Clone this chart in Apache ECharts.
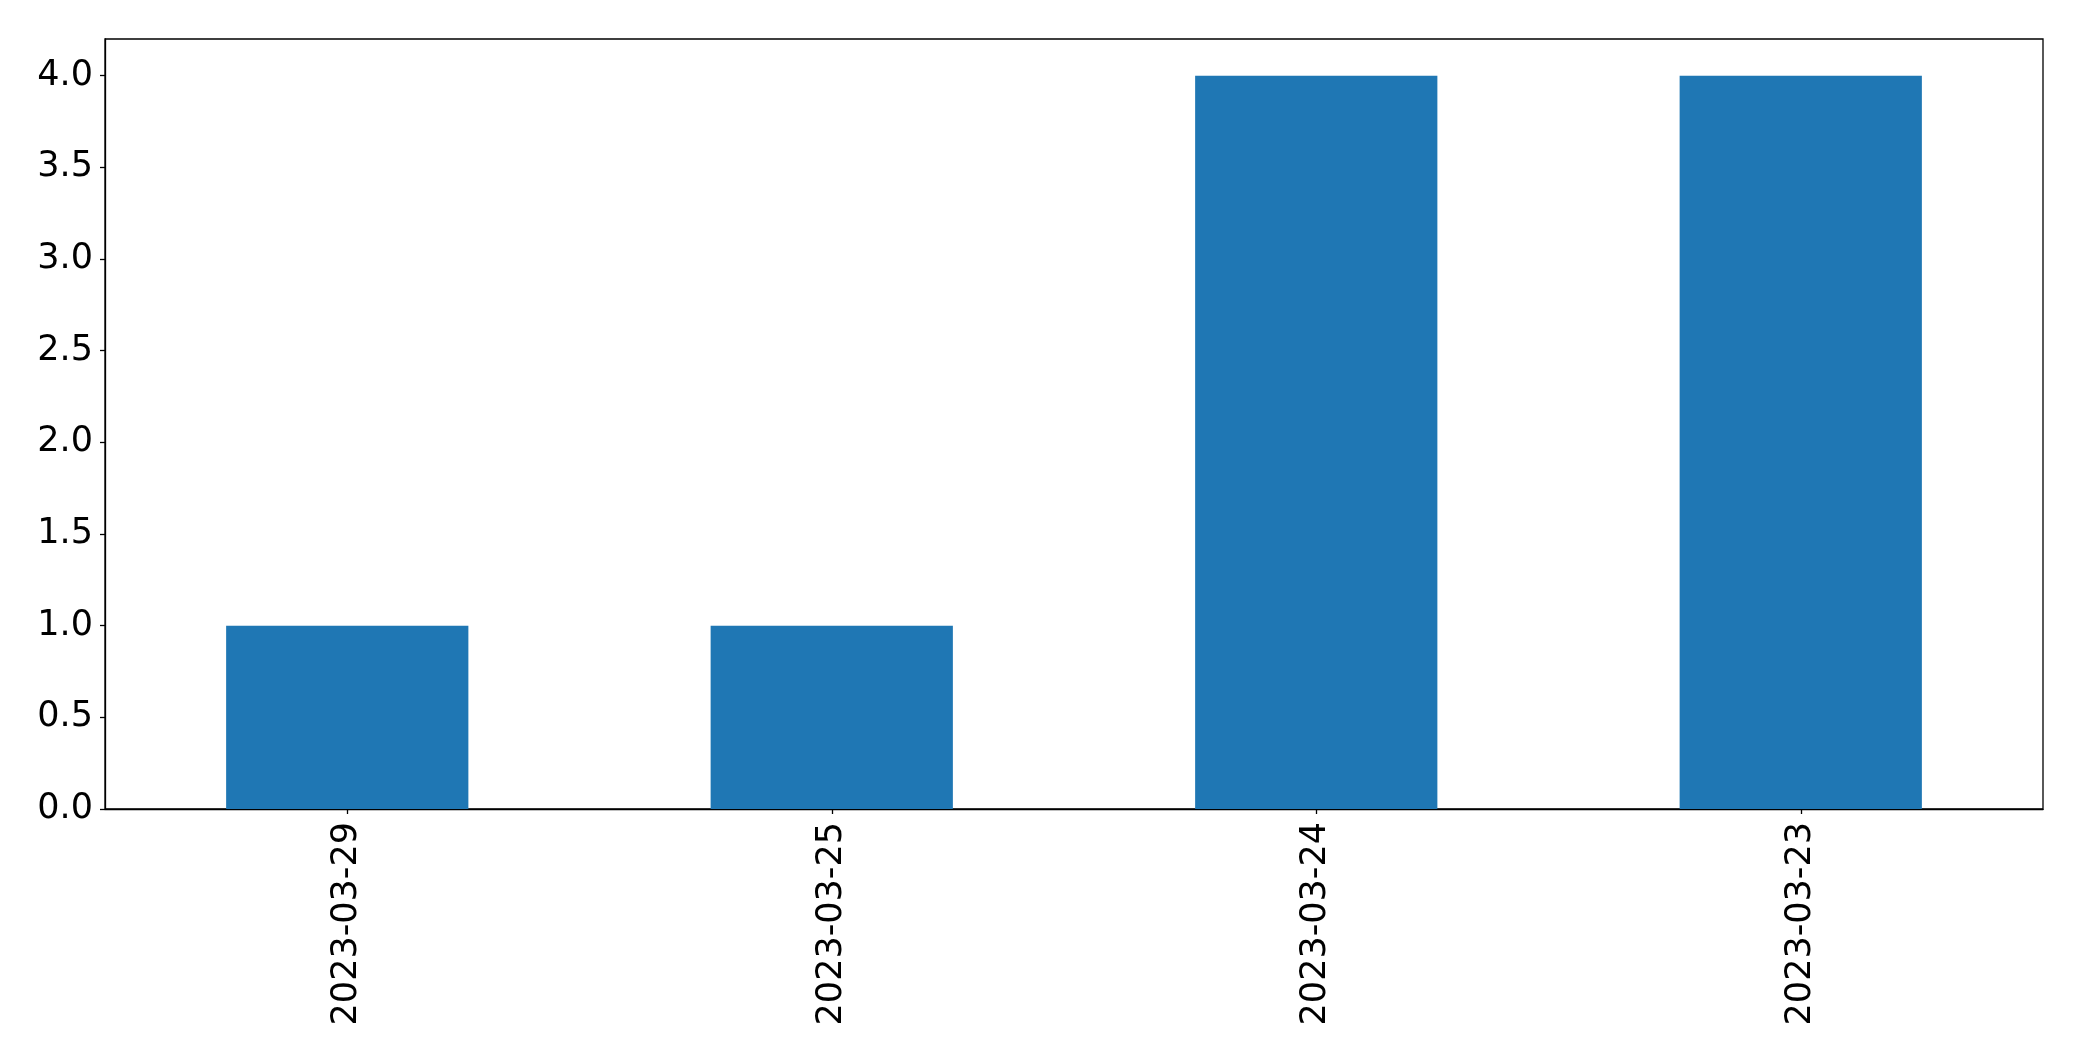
<!DOCTYPE html>
<html>
<head>
<meta charset="utf-8">
<script src="https://cdn.jsdelivr.net/npm/echarts@6/dist/echarts.min.js"></script>
<style>html,body{margin:0;padding:0;background:#fff;}#c{width:2082px;height:1061px;}</style>
</head>
<body>
<div id="c"></div>
<script>
const categories = ['2023-03-29', '2023-03-25', '2023-03-24', '2023-03-23'];
const values = [1, 1, 4, 4];
const yTicks = [0, 0.5, 1, 1.5, 2, 2.5, 3, 3.5, 4];

const chart = echarts.init(document.getElementById('c'), null, {renderer: 'canvas'});
chart.setOption({
  animation: false,
  backgroundColor: '#fff',
  grid: {left: 105, top: 39, right: 39, bottom: 252, show: true, borderColor: '#000', borderWidth: 1.3, backgroundColor: 'transparent'},
  xAxis: {
    type: 'category',
    data: categories,
    axisLine: {show: true, lineStyle: {color: '#000', width: 1.3}},
    axisTick: {show: true, alignWithLabel: true, length: 5, lineStyle: {color: '#000', width: 1.3}},
    axisLabel: {rotate: 90, color: '#000', fontSize: 35, fontFamily: 'DejaVu Sans', margin: 13},
    splitLine: {show: false}
  },
  yAxis: {
    type: 'value',
    min: 0,
    max: 4.2,
    interval: 0.5,
    axisLine: {show: true, lineStyle: {color: '#000', width: 1.3}},
    axisTick: {show: true, length: 5, lineStyle: {color: '#000', width: 1.3}, customValues: yTicks},
    axisLabel: {color: '#000', fontSize: 35, fontFamily: 'DejaVu Sans', margin: 12, customValues: yTicks,
      padding: [5, 0, 0, 0],
      formatter: v => v.toFixed(1)},
    splitLine: {show: false}
  },
  series: [{
    type: 'bar',
    data: values,
    barWidth: '50%',
    itemStyle: {color: '#1f77b4'}
  }]
});
</script>
</body>
</html>
